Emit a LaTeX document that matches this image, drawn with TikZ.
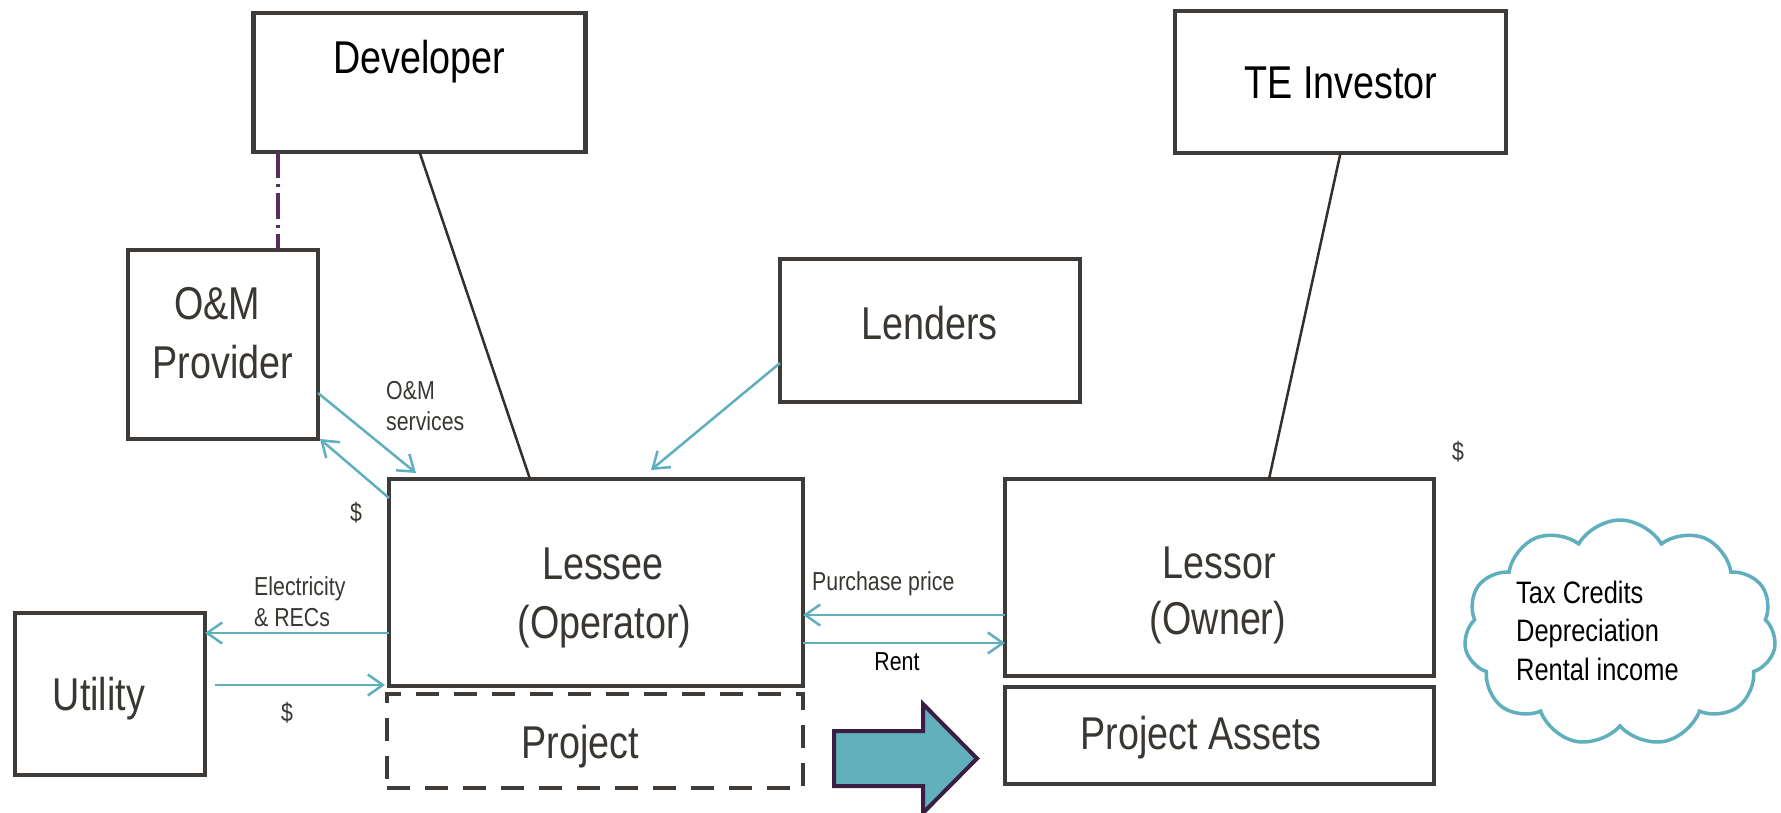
\documentclass[tikz,border=0pt]{standalone}
\usepackage{fontspec}
\setmainfont{Liberation Sans}[FakeStretch=0.82]
\usetikzlibrary{arrows.meta,shapes.symbols,calc}
\definecolor{boxgray}{HTML}{3F3B38}
\definecolor{txtgray}{HTML}{3A3733}
\definecolor{flowteal}{HTML}{5FAFBC}
\definecolor{linkpurple}{HTML}{5A2D5F}
\definecolor{blockfill}{HTML}{62B0BC}
\definecolor{blockedge}{HTML}{3A1E45}
\begin{document}
\begin{tikzpicture}[x=1pt,y=-1pt,
  party/.style={draw=boxgray, line width=4.8pt, rectangle, inner sep=0pt, outer sep=0pt},
  bigtext/.style={text=txtgray, font=\fontsize{46}{55}\selectfont, inner sep=0pt, anchor=base},
  smalltext/.style={text=txtgray, font=\fontsize{26}{31}\selectfont, inner sep=0pt, anchor=base west},
  cloudtext/.style={text=black, font=\fontsize{31}{38}\selectfont, inner sep=0pt, anchor=base west},
  flow/.style={draw=flowteal, line width=2.5pt, -{Straight Barb[length=15pt,width=21pt]}},
  tie/.style={draw=boxgray!80!black, line width=2.5pt},
  ownlink/.style={draw=linkpurple, line width=4pt, dash pattern=on 26pt off 6pt on 3pt off 6pt}]
\useasboundingbox (0,0) rectangle (1781,813);
\fill[white] (0,0) rectangle (1781,813);

% parties
\node[party, minimum width=332pt, minimum height=139pt] (dev)  at (419.5,82.5) {};
\node[party, minimum width=190pt, minimum height=189pt] (om)   at (223,344.5) {};
\node[party, minimum width=300pt, minimum height=143pt] (lend) at (930,330.5) {};
\node[party, minimum width=331pt, minimum height=142pt] (te)   at (1340.5,82) {};
\node[party, minimum width=414pt, minimum height=207pt] (les)  at (596,582.5) {};
\node[party, minimum width=429pt, minimum height=197pt] (lsr)  at (1219.5,577.5) {};
\node[party, minimum width=429pt, minimum height=97pt]  (pa)   at (1219.5,735.5) {};
\node[party, minimum width=190pt, minimum height=162pt] (util) at (110,694) {};
\node[party, dashed, dash pattern=on 23pt off 15pt, minimum width=416pt, minimum height=94pt] (proj) at (595,741) {};

% box titles
\node[bigtext, text=black] at (419.5,73.5) {Developer};
\node[bigtext] at (217,319.5) {O\&M};
\node[bigtext] at (223,378.5) {Provider};
\node[bigtext] at (929.6,339.5) {Lenders};
\node[bigtext, text=black] at (1341,98.5) {TE Investor};
\node[bigtext] at (603,579.5) {Lessee};
\node[bigtext] at (604.5,638.5) {(Operator)};
\node[bigtext] at (1219,578) {Lessor};
\node[bigtext] at (1218,634.5) {(Owner)};
\node[bigtext] at (1201,749.5) {Project Assets};
\node[bigtext] at (580,758) {Project};
\node[bigtext] at (99,710.5) {Utility};

% ownership ties
\coordinate (devfoot) at ([xshift=24.5pt]dev.south west);
\draw[ownlink] (devfoot) -- (devfoot |- om.north);
\draw[tie] (dev.south) -- ([xshift=141pt]les.north west);
\draw[tie] (te.south) -- ([xshift=264pt]lsr.north west);

% flows
\draw[flow] ([yshift=-48.5pt]om.east) -- ([xshift=27pt,yshift=6pt]les.north west);
\draw[flow] ([yshift=-19pt]les.north west) -- ([xshift=2pt]om.south east);
\draw[flow] ([yshift=-32.5pt]lend.west) -- ([xshift=262pt,yshift=9pt]les.north west);
\coordinate (elec) at ([yshift=-50.5pt]les.west);
\draw[flow] (elec) -- (elec -| util.east);
\coordinate (usrc) at (215,685);
\draw[flow] (usrc) -- ([xshift=-4pt]usrc -| les.west);
\coordinate (price) at ([yshift=-37.5pt]lsr.west);
\draw[flow] (price) -- (price -| les.east);
\coordinate (rent) at ([yshift=-60.5pt]les.east);
\draw[flow] (rent) -- (rent -| lsr.west);

% flow labels
\node[smalltext] at (386,399) {O\&M};
\node[smalltext] at (386,430) {services};
\node[smalltext, anchor=base] at (356,521) {\$};
\node[smalltext] at (254,595) {Electricity};
\node[smalltext] at (254,626) {\& RECs};
\node[smalltext, anchor=base] at (287,721) {\$};
\node[smalltext] at (812,590) {Purchase price};
\node[smalltext, anchor=base, text=black] at (897,670) {Rent};
\node[smalltext, anchor=base] at (1458,460) {\$};

% transfer of the project
\draw[fill=blockfill, draw=blockedge, line width=4pt, line join=miter]
  (834,731) -- (923,731) -- (923,704) -- (977,758.5) -- (923,813) -- (923,786) -- (834,786) -- cycle;

% tax benefits
\node[cloud, draw=flowteal, line width=3.5pt, cloud puffs=11, cloud puff arc=120,
      cloud ignores aspect, minimum width=312pt, minimum height=226pt] (benefits) at (1620,633) {};
\node[cloudtext] at (1516,603) {Tax Credits};
\node[cloudtext] at (1516,641.5) {Depreciation};
\node[cloudtext] at (1516,680) {Rental income};
\end{tikzpicture}
\end{document}
